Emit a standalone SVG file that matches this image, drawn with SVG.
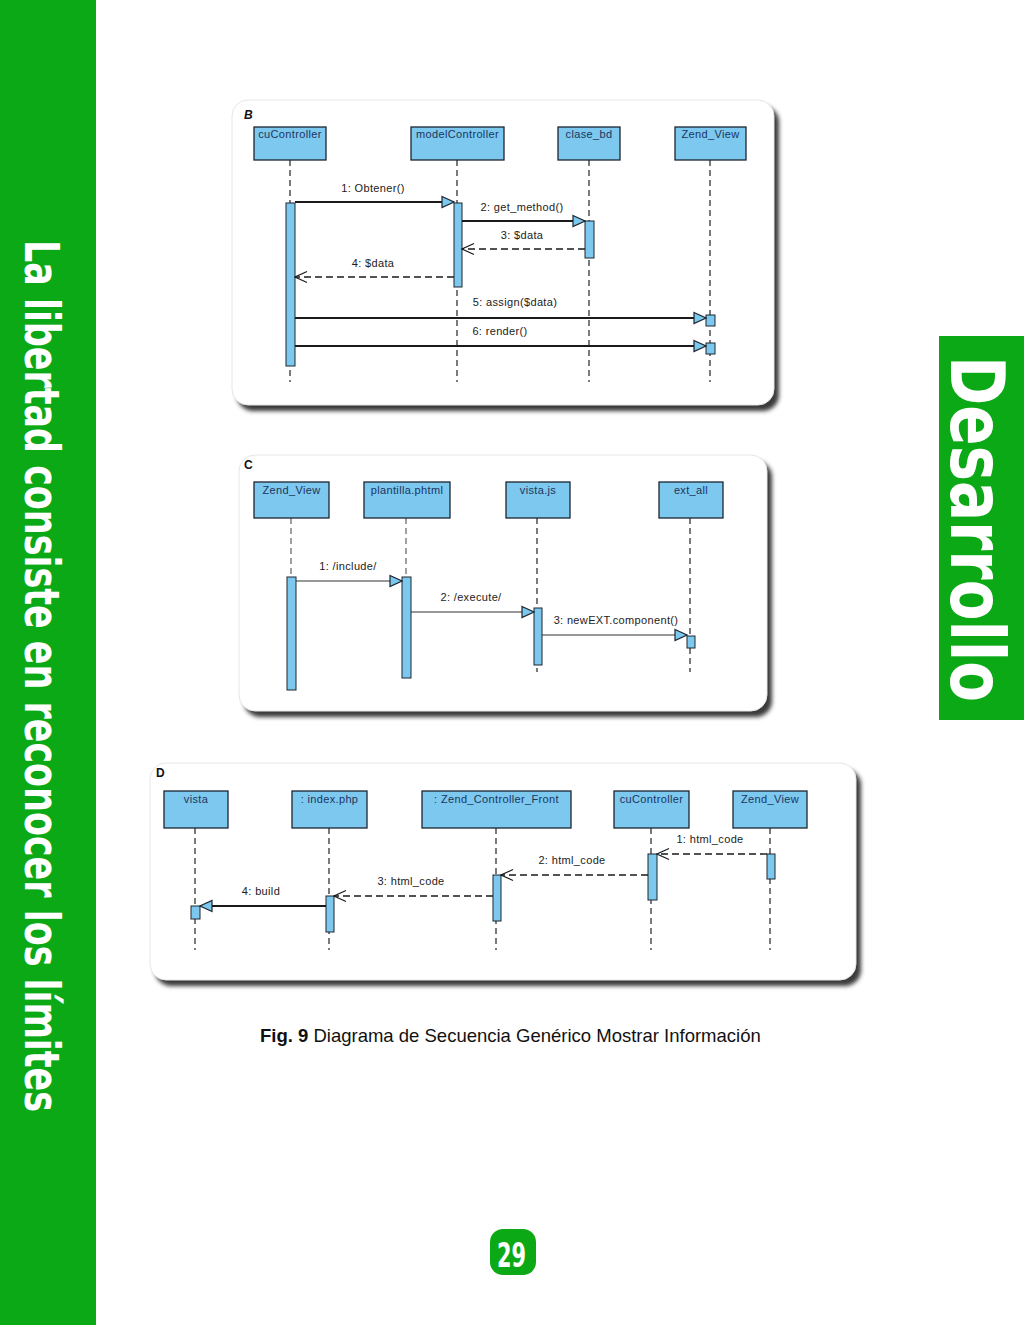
<svg xmlns="http://www.w3.org/2000/svg" width="1024" height="1325" viewBox="0 0 1024 1325">
<style>
.box{fill:#7cc8ee;stroke:#1c2630;stroke-width:1.3}
.act{fill:#7cc8ee;stroke:#1c2630;stroke-width:1}
.bl{font-family:"Liberation Sans",Arial,sans-serif;font-size:11px;letter-spacing:0.35px;fill:#1d3560;text-anchor:middle}
.ml{font-family:"Liberation Sans",Arial,sans-serif;font-size:11px;letter-spacing:0.35px;fill:#222;text-anchor:middle}
.ll{stroke:#222;stroke-width:1.2;stroke-dasharray:6 4;fill:none}
.llg{stroke:#777;stroke-width:1.4;stroke-dasharray:6 4;fill:none}
.msg{stroke:#1a1a1a;stroke-width:2;fill:none}
.msgt{stroke:#333;stroke-width:1.2;fill:none}
.ret{stroke:#1a1a1a;stroke-width:1.4;stroke-dasharray:7 4;fill:none}
.panel{fill:#fff;stroke:#e6e6e6;stroke-width:1}
.shadow{fill:#3a3a3a;filter:url(#blur)}
.plabel{font-family:"Liberation Sans",Arial,sans-serif;font-size:12px;font-weight:bold;fill:#111}
.side{font-family:"Liberation Sans Narrow","DejaVu Sans Condensed","Liberation Sans",sans-serif;font-weight:bold;fill:#fff}
</style>
<defs>
<filter id="blur" x="-5%" y="-5%" width="110%" height="115%"><feGaussianBlur stdDeviation="2"/></filter>
<marker id="tri" markerUnits="userSpaceOnUse" markerWidth="14" markerHeight="14" refX="13" refY="6.5" orient="auto" viewBox="0 0 14 13">
<path d="M1,1 L13,6.5 L1,12 z" fill="#7cc8ee" stroke="#1c2630" stroke-width="1.2"/>
</marker>
<marker id="open" markerUnits="userSpaceOnUse" markerWidth="14" markerHeight="14" refX="13" refY="6.5" orient="auto" viewBox="0 0 14 13">
<path d="M1,1 L13,6.5 L1,12" fill="none" stroke="#1a1a1a" stroke-width="1.2"/>
</marker>
</defs>
<rect x="0" y="0" width="1024" height="1325" fill="#fff"/>
<!-- Left green bar -->
<rect x="0" y="0" width="96" height="1325" fill="#0ca916"/>
<text class="side" font-size="48" transform="translate(25,240) rotate(90)" textLength="872" lengthAdjust="spacingAndGlyphs">La libertad consiste en reconocer los límites</text>
<!-- Right tab -->
<rect x="939" y="336" width="85" height="384" fill="#0ca916"/>
<text class="side" font-size="74" transform="translate(951,356) rotate(90)" textLength="346" lengthAdjust="spacingAndGlyphs">Desarrollo</text>
<!-- Panels -->
<rect class="shadow" x="237" y="106" width="542" height="305" rx="16"/>
<rect class="panel" x="232" y="100" width="542" height="305" rx="16"/>
<rect class="shadow" x="244" y="461" width="528" height="256" rx="16"/>
<rect class="panel" x="239" y="455" width="528" height="256" rx="16"/>
<rect class="shadow" x="155" y="769" width="706" height="217" rx="16"/>
<rect class="panel" x="150" y="763" width="706" height="217" rx="16"/>
<text class="plabel" x="244" y="119" font-style="italic">B</text>
<text class="plabel" x="244" y="469">C</text>
<text class="plabel" x="156" y="777">D</text>
<!-- Panel B nodes -->
<g id="B-cuController">
<line class="ll" x1="290" y1="160" x2="290" y2="382"/>
<rect class="box" x="254" y="127" width="72" height="33"/>
<text class="bl" x="290" y="138">cuController</text>
<rect class="act" x="286" y="203" width="9" height="163"/>
</g>
<g id="B-modelController">
<line class="ll" x1="457" y1="160" x2="457" y2="382"/>
<rect class="box" x="411" y="127" width="93" height="33"/>
<text class="bl" x="457.5" y="138">modelController</text>
<rect class="act" x="454" y="203" width="8" height="84"/>
</g>
<g id="B-clase_bd">
<line class="ll" x1="589" y1="160" x2="589" y2="382"/>
<rect class="box" x="558" y="127" width="62" height="33"/>
<text class="bl" x="589" y="138">clase_bd</text>
<rect class="act" x="585" y="221" width="9" height="37"/>
</g>
<g id="B-Zend_View">
<line class="ll" x1="710" y1="160" x2="710" y2="382"/>
<rect class="box" x="675" y="127" width="71" height="33"/>
<text class="bl" x="710.5" y="138">Zend_View</text>
<rect class="act" x="706" y="315" width="9" height="11"/>
<rect class="act" x="706" y="343" width="9" height="11"/>
</g>
<!-- Panel C nodes -->
<g id="C-Zend_View">
<line class="llg" x1="291" y1="518" x2="291" y2="577"/>
<rect class="box" x="254" y="482" width="75" height="36"/>
<text class="bl" x="291.5" y="494">Zend_View</text>
<rect class="act" x="287" y="577" width="9" height="113"/>
</g>
<g id="C-plantilla">
<line class="llg" x1="406" y1="518" x2="406" y2="577"/>
<rect class="box" x="364" y="482" width="86" height="36"/>
<text class="bl" x="407" y="494">plantilla.phtml</text>
<rect class="act" x="402" y="577" width="9" height="101"/>
</g>
<g id="C-vista_js">
<line class="ll" x1="537" y1="518" x2="537" y2="672"/>
<rect class="box" x="506" y="482" width="64" height="36"/>
<text class="bl" x="538" y="494">vista.js</text>
<rect class="act" x="534" y="608" width="8" height="57"/>
</g>
<g id="C-ext_all">
<line class="ll" x1="690" y1="518" x2="690" y2="672"/>
<rect class="box" x="659" y="482" width="64" height="36"/>
<text class="bl" x="691" y="494">ext_all</text>
<rect class="act" x="687" y="636" width="8" height="12"/>
</g>
<!-- Panel D nodes -->
<g id="D-vista">
<line class="ll" x1="195" y1="828" x2="195" y2="950"/>
<rect class="box" x="164" y="791" width="64" height="37"/>
<text class="bl" x="196" y="803">vista</text>
<rect class="act" x="191" y="906" width="9" height="13"/>
</g>
<g id="D-index">
<line class="ll" x1="329" y1="828" x2="329" y2="950"/>
<rect class="box" x="292" y="791" width="75" height="37"/>
<text class="bl" x="329.5" y="803">: index.php</text>
<rect class="act" x="326" y="896" width="8" height="36"/>
</g>
<g id="D-Zend_Controller_Front">
<line class="ll" x1="496" y1="828" x2="496" y2="950"/>
<rect class="box" x="422" y="791" width="149" height="37"/>
<text class="bl" x="496.5" y="803">: Zend_Controller_Front</text>
<rect class="act" x="493" y="875" width="8" height="46"/>
</g>
<g id="D-cuController">
<line class="ll" x1="651" y1="828" x2="651" y2="950"/>
<rect class="box" x="614" y="791" width="75" height="37"/>
<text class="bl" x="651.5" y="803">cuController</text>
<rect class="act" x="648" y="854" width="9" height="46"/>
</g>
<g id="D-Zend_View">
<line class="ll" x1="770" y1="828" x2="770" y2="950"/>
<rect class="box" x="733" y="791" width="74" height="37"/>
<text class="bl" x="770" y="803">Zend_View</text>
<rect class="act" x="767" y="854" width="8" height="25"/>
</g>
<!-- Connectors -->
<g id="connectors">
<line class="msg" x1="295" y1="202" x2="454" y2="202" marker-end="url(#tri)"/>
<text class="ml" x="373" y="192">1: Obtener()</text>
<line class="msg" x1="462" y1="221" x2="585" y2="221" marker-end="url(#tri)"/>
<text class="ml" x="522" y="211">2: get_method()</text>
<line class="ret" x1="585" y1="249" x2="462" y2="249" marker-end="url(#open)"/>
<text class="ml" x="522" y="239">3: $data</text>
<line class="ret" x1="454" y1="277" x2="295" y2="277" marker-end="url(#open)"/>
<text class="ml" x="373" y="267">4: $data</text>
<line class="msg" x1="295" y1="318" x2="706" y2="318" marker-end="url(#tri)"/>
<text class="ml" x="515" y="306">5: assign($data)</text>
<line class="msg" x1="295" y1="346" x2="706" y2="346" marker-end="url(#tri)"/>
<text class="ml" x="500" y="335">6: render()</text>

<line class="msgt" x1="296" y1="581" x2="402" y2="581" marker-end="url(#tri)"/>
<text class="ml" x="348" y="570">1: /include/</text>
<line class="msgt" x1="411" y1="612" x2="534" y2="612" marker-end="url(#tri)"/>
<text class="ml" x="471" y="601">2: /execute/</text>
<line class="msgt" x1="542" y1="635" x2="687" y2="635" marker-end="url(#tri)"/>
<text class="ml" x="616" y="624">3: newEXT.component()</text>

<line class="ret" x1="767" y1="854" x2="657" y2="854" marker-end="url(#open)"/>
<text class="ml" x="710" y="843">1: html_code</text>
<line class="ret" x1="648" y1="875" x2="501" y2="875" marker-end="url(#open)"/>
<text class="ml" x="572" y="864">2: html_code</text>
<line class="ret" x1="493" y1="896" x2="334" y2="896" marker-end="url(#open)"/>
<text class="ml" x="411" y="885">3: html_code</text>
<line class="msg" x1="326" y1="906" x2="200" y2="906" stroke-width="1.6" marker-end="url(#tri)"/>
<text class="ml" x="261" y="895">4: build</text>
</g>
<!-- Caption -->
<text x="260" y="1042" font-family="Liberation Sans,Arial,sans-serif" font-size="18.5" fill="#111"><tspan font-weight="bold">Fig. 9</tspan> Diagrama de Secuencia Genérico Mostrar Información</text>
<!-- Page number -->
<rect x="490" y="1229" width="46" height="46" rx="13" fill="#0ca916"/>
<text class="side" x="497" y="1267" font-size="34" textLength="29" lengthAdjust="spacingAndGlyphs">29</text>
</svg>
